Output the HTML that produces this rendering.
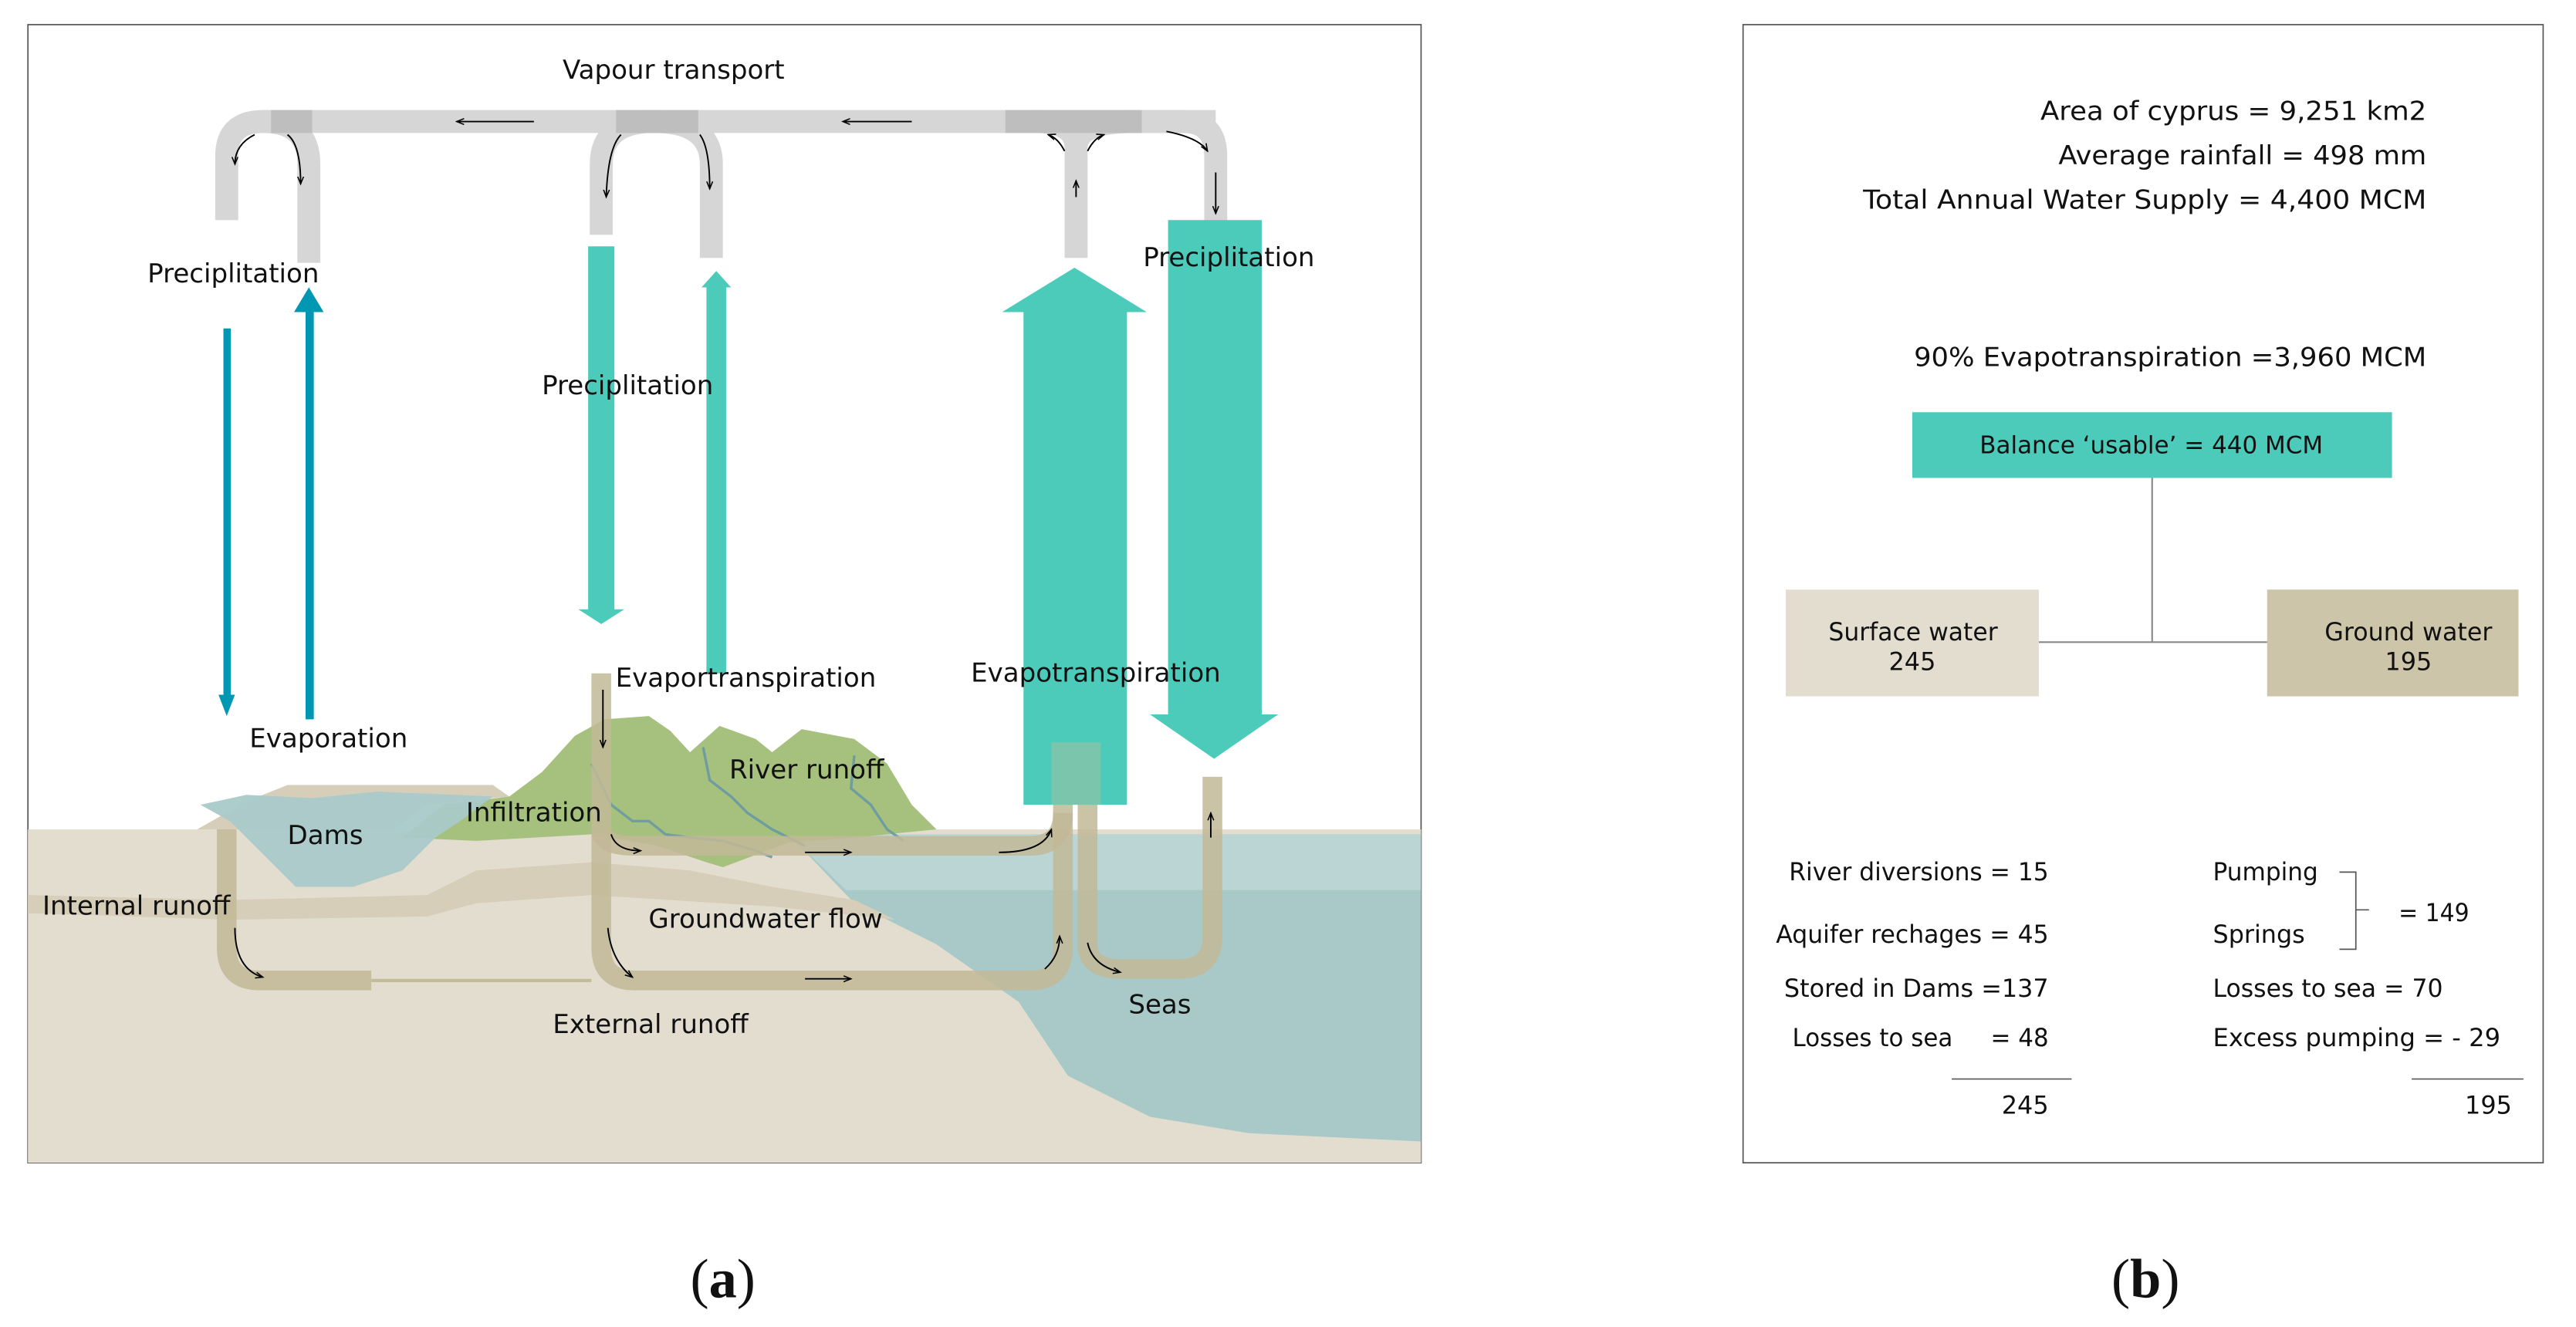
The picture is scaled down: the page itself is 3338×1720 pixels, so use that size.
<!DOCTYPE html>
<html><head><meta charset="utf-8"><style>
html,body{margin:0;padding:0;background:#fff;}
svg{display:block;}
text{font-family:"DejaVu Sans","Liberation Sans",sans-serif;fill:#111;}
</style></head><body>
<svg width="3338" height="1720" viewBox="0 0 1568 808" preserveAspectRatio="none" xmlns="http://www.w3.org/2000/svg">
<defs>
<marker id="ah" markerWidth="6" markerHeight="6" refX="5" refY="3" orient="auto"><path d="M0,1 L5,3 L0,5" fill="none" stroke="#000" stroke-width="0.8"/></marker>
</defs>
<rect x="0" y="0" width="1568" height="808" fill="#fff"/>
<!-- Panel a -->
<rect x="17" y="15" width="848" height="693" fill="#fff" stroke="#555" stroke-width="0.8"/>
<path d="M17,505 L865,505 L865,708 L17,708 Z" fill="#e3ddd0"/>
<path d="M120,505 L150,488 L175,478 L300,478 L310,485 L260,490 L240,505 Z" fill="#d6ceb8"/>
<!-- sea -->
<path d="M480,508 L865,508 L865,695 L760,690 L700,680 L650,655 L620,610 L570,575 L520,550 Z" fill="#a8c9c7"/>
<path d="M480,508 L865,508 L865,542 L515,542 Z" fill="#bad5d3"/>
<!-- strata band -->
<path d="M17,545 L140,548 L260,545 L290,530 L360,525 L420,530 L470,540 L520,548 L545,560 L470,552 L360,545 L290,550 L260,558 L140,560 L17,556 Z" fill="#d6ceb8"/>
<!-- green hill -->
<path d="M245,510 L270,490 L310,485 L330,470 L350,448 L368,438 L395,436 L408,445 L420,458 L438,442 L460,450 L470,458 L488,444 L520,450 L540,465 L555,490 L570,505 L520,510 L480,513 L440,528 L430,525 L400,515 L360,508 L290,512 Z" fill="#a6c07d"/>
<!-- dam water -->
<path d="M122,490 L150,484 L190,486 L230,482 L300,485 L280,500 L265,510 L245,530 L215,540 L180,540 L160,520 L140,500 Z" fill="#a9c9c9" opacity="0.95"/>
<!-- rivers -->
<g fill="none" stroke="#6a9aa3" stroke-width="1.6" opacity="0.9">
<path d="M360,465 L372,490 L385,500 L395,500 L405,508 L420,510 L440,512 L460,518 L470,522"/>
<path d="M428,455 L432,475 L445,485 L455,495 L470,505 L490,515"/>
<path d="M520,460 L518,480 L530,490 L540,505 L550,512"/>
</g>
<!-- beige tubes -->
<g fill="none" stroke="#c2b897" stroke-opacity="0.85" stroke-width="12">
<path d="M138,505 L138,577 Q138,597 158,597 L226,597"/>
<path d="M366,410 L366,577 Q366,597 386,597 L627,597 Q647,597 647,577 L647,455"/>
<path d="M366,505 Q366,515 386,515 L627,515 Q647,515 647,495"/>
<path d="M662,455 L662,575 Q662,590 682,590 L718,590 Q738,590 738,570 L738,473"/>
</g>
<line x1="226" y1="597" x2="360" y2="597" stroke="#c4bb9b" stroke-width="2"/>
<!-- gray vapour tubes -->
<g fill="none" stroke="#d6d6d6" stroke-width="14">
<path d="M138,134 L138,95 Q138,74 160,74 Q188,74 188,100 L188,160"/>
<path d="M160,74 L740,74"/>
<path d="M366,143 L366,100 Q366,74 398,74 Q433,74 433,100 L433,157"/>
<path d="M655,157 L655,90 Q655,74 630,74"/>
<path d="M655,90 Q655,74 690,74 L720,74 Q740,74 740,95 L740,135"/>
</g>
<g fill="none" stroke="#b8b8b8" stroke-width="14" opacity="0.8">
<path d="M165,74 L190,74"/><path d="M375,74 L425,74"/><path d="M612,74 L695,74"/>
</g>
<!-- small black arrows -->
<g stroke="#000" stroke-width="0.9" fill="none" marker-end="url(#ah)">
<line x1="325" y1="74" x2="278" y2="74"/>
<line x1="555" y1="74" x2="513" y2="74"/>
<path d="M155,82 Q143,88 143,100"/>
<path d="M175,82 Q183,88 183,112"/>
<path d="M378,82 Q370,90 369,120"/>
<path d="M426,82 Q432,90 432,115"/>
<line x1="655" y1="120" x2="655" y2="110"/>
<path d="M710,80 Q730,84 735,92"/>
<line x1="740" y1="105" x2="740" y2="130"/>
<path d="M648,92 Q644,84 638,82"/>
<path d="M662,92 Q666,84 672,82"/>
<line x1="367" y1="420" x2="367" y2="455"/>
<path d="M372,508 Q375,518 390,518"/>
<line x1="490" y1="519" x2="518" y2="519"/>
<path d="M608,519 Q635,519 640,505"/>
<line x1="649" y1="482" x2="649" y2="458"/>
<line x1="663" y1="482" x2="663" y2="458"/>
<path d="M143,565 Q143,590 160,595"/>
<path d="M370,565 Q372,585 385,595"/>
<line x1="490" y1="596" x2="518" y2="596"/>
<path d="M636,590 Q645,582 645,570"/>
<path d="M662,574 Q665,588 682,592"/>
<line x1="737" y1="510" x2="737" y2="495"/>
</g>
<!-- blue arrows -->
<rect x="136" y="200" width="4.5" height="225" fill="#0097b2"/>
<path d="M133,423 L143,423 L138,436 Z" fill="#0097b2"/>
<rect x="186" y="186" width="5" height="252" fill="#0097b2"/>
<path d="M179,190 L197,190 L188,175 Z" fill="#0097b2"/>
<!-- teal arrows -->
<g fill="#4ccbba">
<rect x="358" y="150" width="16" height="222"/>
<path d="M352,371 L380,371 L366,380 Z"/>
<rect x="430" y="174" width="12" height="236"/>
<path d="M427,175 L445,175 L436,165 Z"/>
<rect x="623" y="190" width="63" height="300"/>
<path d="M610,190 L698,190 L654,163 Z"/>
<rect x="711" y="134" width="57" height="302"/>
<path d="M700,435 L778,435 L739,462 Z"/>
</g>
<rect x="640" y="452" width="30" height="38" fill="#c4bb9b" opacity="0.4"/>
<!-- labels a -->
<g font-size="16">
<text x="410" y="48" text-anchor="middle">Vapour transport</text>
<text x="142" y="172" text-anchor="middle">Preciplitation</text>
<text x="382" y="240" text-anchor="middle">Preciplitation</text>
<text x="748" y="162" text-anchor="middle">Preciplitation</text>
<text x="200" y="455" text-anchor="middle">Evaporation</text>
<text x="454" y="418" text-anchor="middle">Evaportranspiration</text>
<text x="667" y="415" text-anchor="middle">Evapotranspiration</text>
<text x="491" y="474" text-anchor="middle">River runoff</text>
<text x="325" y="500" text-anchor="middle">Infiltration</text>
<text x="198" y="514" text-anchor="middle">Dams</text>
<text x="83" y="557" text-anchor="middle">Internal runoff</text>
<text x="466" y="565" text-anchor="middle">Groundwater flow</text>
<text x="396" y="629" text-anchor="middle">External runoff</text>
<text x="706" y="617" text-anchor="middle">Seas</text>
</g>
<text x="440" y="790" text-anchor="middle" font-size="34" style="font-family:'Liberation Serif',serif">(<tspan font-weight="bold">a</tspan>)</text>
<!-- Panel b -->
<rect x="1061" y="15" width="487" height="693" fill="#fff" stroke="#555" stroke-width="0.8"/>
<g font-size="16" lengthAdjust="spacingAndGlyphs">
<text x="1242" y="73" textLength="235" lengthAdjust="spacingAndGlyphs">Area of cyprus = 9,251 km2</text>
<text x="1253" y="100" textLength="224" lengthAdjust="spacingAndGlyphs">Average rainfall = 498 mm</text>
<text x="1134" y="127" textLength="343" lengthAdjust="spacingAndGlyphs">Total Annual Water Supply  = 4,400 MCM</text>
<text x="1165" y="223" textLength="312" lengthAdjust="spacingAndGlyphs">90% Evapotranspiration =3,960 MCM</text>
</g>
<rect x="1164" y="251" width="292" height="40" fill="#4ccbba"/>
<text x="1205" y="276" font-size="14.5" textLength="209" lengthAdjust="spacingAndGlyphs">Balance ‘usable’ = 440 MCM</text>
<line x1="1310" y1="291" x2="1310" y2="391" stroke="#888" stroke-width="1"/>
<line x1="1241" y1="391" x2="1380" y2="391" stroke="#888" stroke-width="1"/>
<rect x="1087" y="359" width="154" height="65" fill="#e3ddd0"/>
<rect x="1380" y="359" width="153" height="65" fill="#cdc5aa"/>
<g font-size="15">
<text x="1113" y="390" textLength="103" lengthAdjust="spacingAndGlyphs">Surface water</text><text x="1164" y="408" text-anchor="middle">245</text>
<text x="1415" y="390" textLength="102" lengthAdjust="spacingAndGlyphs">Ground water</text><text x="1466" y="408" text-anchor="middle">195</text>
</g>
<g font-size="15">
<text x="1089" y="536" textLength="158" lengthAdjust="spacingAndGlyphs">River diversions = 15</text>
<text x="1081" y="574" textLength="166" lengthAdjust="spacingAndGlyphs">Aquifer rechages = 45</text>
<text x="1086" y="607" textLength="161" lengthAdjust="spacingAndGlyphs">Stored in Dams =137</text>
<text x="1091" y="637" textLength="156" lengthAdjust="spacingAndGlyphs" xml:space="preserve">Losses to sea     = 48</text>
<text x="1247" y="678" text-anchor="end">245</text>
<text x="1347" y="536" textLength="64" lengthAdjust="spacingAndGlyphs">Pumping</text>
<text x="1347" y="574" textLength="56" lengthAdjust="spacingAndGlyphs">Springs</text>
<text x="1347" y="607" textLength="140" lengthAdjust="spacingAndGlyphs">Losses to sea = 70</text>
<text x="1347" y="637" textLength="175" lengthAdjust="spacingAndGlyphs">Excess pumping = - 29</text>
<text x="1460" y="561" textLength="43" lengthAdjust="spacingAndGlyphs">= 149</text>
<text x="1529" y="678" text-anchor="end">195</text>
</g>
<path d="M1424,531 L1434,531 L1434,578 L1424,578 M1434,554 L1442,554" fill="none" stroke="#555" stroke-width="0.8"/>
<line x1="1188" y1="657" x2="1261" y2="657" stroke="#555" stroke-width="0.8"/>
<line x1="1468" y1="657" x2="1536" y2="657" stroke="#555" stroke-width="0.8"/>
<text x="1306" y="790" text-anchor="middle" font-size="34" style="font-family:'Liberation Serif',serif">(<tspan font-weight="bold">b</tspan>)</text>
</svg>
</body></html>
